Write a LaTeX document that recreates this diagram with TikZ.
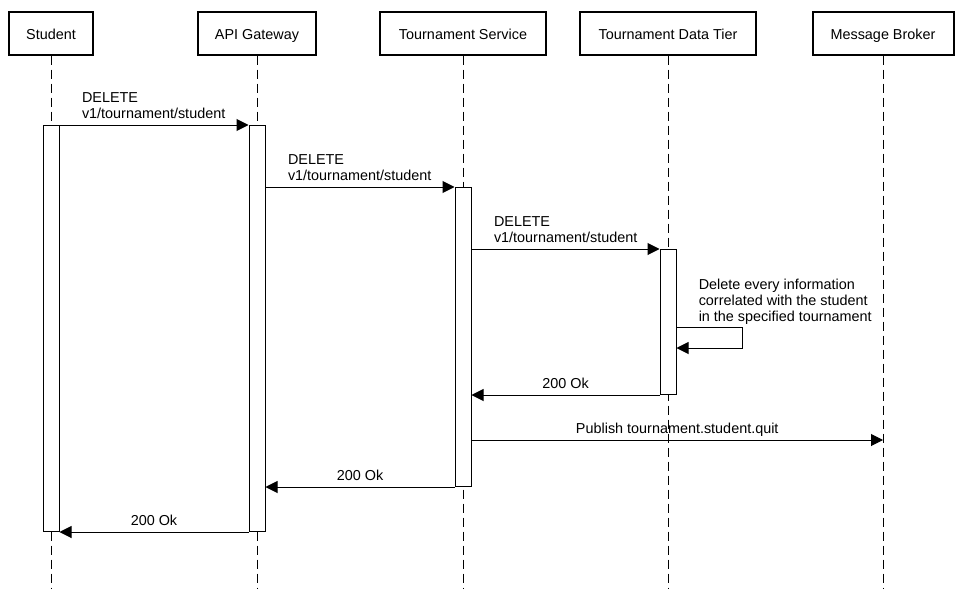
\documentclass[tikz,border=0pt]{standalone}
\usepackage{fontspec}
\setmainfont{Liberation Sans}
\usetikzlibrary{arrows.meta}

\begin{document}
\begin{tikzpicture}[x=0.75pt, y=-0.75pt, font=\fontsize{10.8}{12}\selectfont,
  actor/.style={rectangle, draw, line width=1.5pt, minimum height=32.25pt, inner sep=0pt, text height=10.6pt, text depth=1pt},
  lifeline/.style={dash pattern=on 7pt off 3.5pt, line width=0.75pt},
  bar/.style={rectangle, draw, fill=white, line width=0.75pt, minimum width=12pt, inner sep=0pt, anchor=north},
  msg/.style={-{Triangle[length=9pt, width=9pt]}, line width=0.75pt},
  msglabel/.style={anchor=south west, align=left, inner sep=0pt, yshift=4.5pt, xshift=16.5pt},
  retlabel/.style={midway, anchor=base, inner sep=0pt, yshift=5pt}]

    \useasboundingbox (0,0) rectangle (961,589);

    \node[actor, minimum width=63pt] (student) at (51,33) {Student};
    \node[actor, minimum width=88.5pt] (gateway) at (257,33) {API Gateway};
    \node[actor, minimum width=124.5pt] (service) at (463,33) {Tournament Service};
    \node[actor, minimum width=132pt] (datatier) at (668,33) {Tournament Data Tier};
    \node[actor, minimum width=105.75pt] (broker) at (883,33) {Message Broker};

    \foreach \n in {student, gateway, service, datatier, broker}
      \draw[lifeline] (\n.south) -- (\n.south |- 0,589);

    \node[bar, minimum height=304.5pt] (sbar) at (51,125) {};
    \node[bar, minimum height=304.5pt] (gbar) at (257,125) {};
    \node[bar, minimum height=224.25pt] (tbar) at (463,187) {};
    \node[bar, minimum height=108.75pt] (dbar) at (668,249) {};

    \coordinate (loopa) at (742,327);
    \coordinate (loopb) at (742,348);
    \coordinate (publish) at (0,440);

    \draw[msg] (sbar.north east) -- (gbar.north west) node[msglabel, pos=0] {DELETE\\v1/tournament/student};
    \draw[msg] (gbar.east |- tbar.north) -- (tbar.north west) node[msglabel, pos=0] {DELETE\\v1/tournament/student};
    \draw[msg] (tbar.east |- dbar.north) -- (dbar.north west) node[msglabel, pos=0] {DELETE\\v1/tournament/student};
    \draw[msg] (dbar.east |- loopa) -- (loopa) -- (loopb) -- (dbar.east |- loopb);
    \node[anchor=south west, align=left, inner sep=0pt, yshift=2pt] at (dbar.east |- loopa) [xshift=16.5pt] {Delete every information\\correlated with the student\\in the specified tournament};
    \draw[msg] (dbar.south west) -- (tbar.east |- dbar.south) node[retlabel] {200 Ok};
    \draw[msg] (tbar.east |- publish) -- (broker.south |- publish) node[retlabel] {Publish tournament.student.quit};
    \draw[msg] (tbar.south west) -- (gbar.east |- tbar.south) node[retlabel] {200 Ok};
    \draw[msg] (gbar.south west) -- (sbar.south east) node[retlabel] {200 Ok};

  \end{tikzpicture}
\end{document}
